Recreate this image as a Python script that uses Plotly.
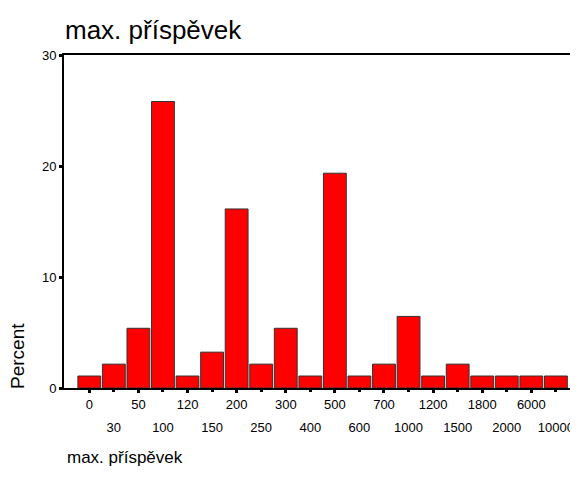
import plotly.graph_objects as go

categories = ["0", "30", "50", "100", "120", "150", "200", "250", "300", "400",
              "500", "600", "700", "1000", "1200", "1500", "1800", "2000", "6000", "10000"]
percent = [1.08, 2.15, 5.38, 25.81, 1.08, 3.23, 16.13, 2.15, 5.38, 1.08,
           19.35, 1.08, 2.15, 6.45, 1.08, 2.15, 1.08, 1.08, 1.08, 1.08]
y_ticks = [0, 10, 20, 30]

FONT = "Liberation Sans, Arial, sans-serif"
# the page body keeps its default 8px margin, so the figure is drawn 8px in
OFF = 8
W, H = 578 - OFF, 482 - 2 * OFF
L, T = 64 - OFF, 55 - OFF
B = H - (388 - OFF)
plot_h = H - T - B

idx = list(range(len(categories)))
even_idx = idx[0::2]
odd_idx = idx[1::2]
x_range = [-1.03, 19.9]

fig = go.Figure()
fig.add_trace(
    go.Bar(
        x=idx,
        y=percent,
        width=0.93,
        marker={"color": "#ff0000", "line": {"color": "#333333", "width": 1}},
        hoverinfo="skip",
        showlegend=False,
    )
)
# second (lower) row of tick labels lives on an overlaid axis
fig.add_trace(
    go.Scatter(
        x=odd_idx,
        y=[0] * len(odd_idx),
        xaxis="x2",
        mode="markers",
        marker={"opacity": 0},
        hoverinfo="skip",
        showlegend=False,
    )
)

tick_common = {
    "ticks": "outside",
    "ticklen": 3,
    "tickwidth": 3,
    "tickcolor": "#000000",
    "tickfont": {"size": 13, "color": "#000000", "family": FONT},
    "showgrid": False,
    "zeroline": False,
    "range": x_range,
    "fixedrange": True,
    "automargin": False,
}

fig.update_layout(
    width=W,
    height=H,
    paper_bgcolor="#ffffff",
    plot_bgcolor="#ffffff",
    margin={"l": L, "r": 0, "t": T, "b": B},
    font={"family": FONT, "color": "#000000"},
    title={
        "text": "max. příspěvek",
        "xref": "container",
        "yref": "container",
        "x": (65 - OFF) / W,
        "xanchor": "left",
        "y": 1 - (30 - OFF) / H,
        "yanchor": "middle",
        "font": {"size": 26, "color": "#000000", "family": FONT},
    },
    xaxis={
        **tick_common,
        "tickmode": "array",
        "tickvals": even_idx,
        "ticktext": [categories[i] for i in even_idx],
        "showline": True,
        "linecolor": "#000000",
        "linewidth": 2,
        "mirror": True,
        "ticklabelstandoff": 0,
    },
    xaxis2={
        **tick_common,
        "overlaying": "x",
        "anchor": "y",
        "side": "bottom",
        "tickmode": "array",
        "tickvals": odd_idx,
        "ticktext": [categories[i] for i in odd_idx],
        "showline": False,
        "ticklabelstandoff": 24,
    },
    yaxis={
        "range": [0, 30],
        "tickmode": "array",
        "tickvals": y_ticks,
        "ticks": "outside",
        "ticklen": 3,
        "tickwidth": 3,
        "tickcolor": "#000000",
        "tickfont": {"size": 13, "color": "#000000", "family": FONT},
        "showline": True,
        "linecolor": "#000000",
        "linewidth": 2,
        "showgrid": False,
        "zeroline": False,
        "fixedrange": True,
        "automargin": False,
    },
    annotations=[
        {
            "text": "Percent",
            "xref": "paper",
            "yref": "paper",
            "x": (17 - 64) / (W - L),
            "y": (388 - 356) / plot_h,
            "xanchor": "center",
            "yanchor": "middle",
            "textangle": -90,
            "showarrow": False,
            "font": {"size": 19, "color": "#000000", "family": FONT},
        },
        {
            "text": "max. příspěvek",
            "xref": "paper",
            "yref": "paper",
            "x": (65 - 64) / (W - L),
            "y": (388 - 457) / plot_h,
            "xanchor": "left",
            "yanchor": "middle",
            "showarrow": False,
            "font": {"size": 17, "color": "#000000", "family": FONT},
        },
    ],
)

fig.write_html("out.html")
